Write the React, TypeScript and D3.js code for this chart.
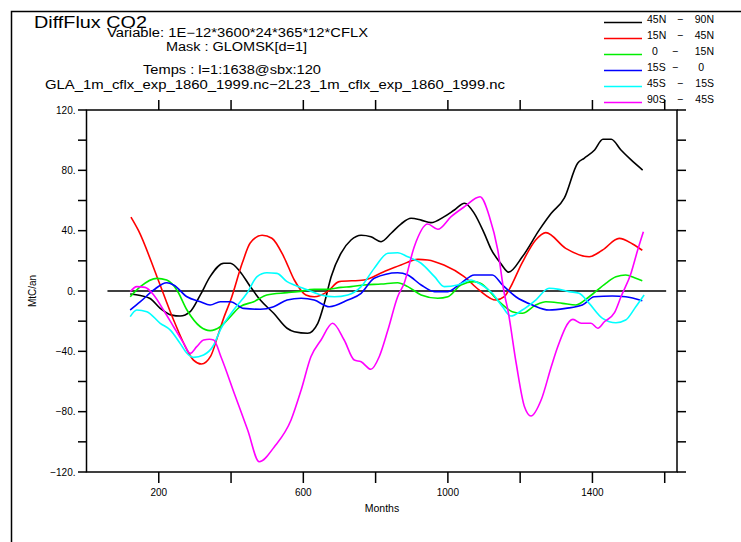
import React, { useEffect, useRef } from 'react';
import * as d3 from 'd3';

// latitude bands shown in the legend
const bandFrom = ['45N', '15N', '0', '15S', '45S', '90S'];
const bandTo = ['90N', '45N', '15N', '0', '15S', '45S'];
const bandColors = ['#000000', '#ff0000', '#00ee00', '#0000ff', '#00ffff', '#ff00ff'];

// [month, MtC/an]
const band45N90N = [[121,-2],[149,-3],[176,-5],[204,-11.5],[236,-16],[259,-16.6],[287,-13.7],[315,-2.6],[342,9.5],[380,18.4],[398,18.4],[425,12.8],[453,3],[481,-6],[518,-14.8],[555,-24.7],[575,-27],[612,-28],[640,-21.4],[658,-8.2],[677,9.5],[704,25],[732,33.8],[760,37],[787,36],[815,32.7],[843,38.3],[870,44.4],[898,48.2],[926,47],[953,45.3],[990,49.3],[1018,53.7],[1046,58.2],[1073,51.5],[1101,38],[1119,28],[1147,18],[1168,12.5],[1206,22.7],[1253,40.5],[1286,51.5],[1322,61.5],[1359,84.7],[1377,88],[1406,93.5],[1429,100.6],[1452,100.6],[1479,93.5],[1507,86.9],[1539,80.2]];
const band15N45N = [[123,49],[144,40],[195,9.5],[241,-19.2],[278,-39],[296,-45.8],[318,-48.4],[344,-43],[363,-30],[381,-17],[399,-6],[431,18.5],[453,31.8],[486,37],[513,35],[546,22.7],[575,7.3],[607,-2.6],[630,-3.8],[667,-0.4],[699,6.2],[768,7.3],[823,12.8],[870,17.2],[917,21],[944,20.6],[989,17.2],[1045,9.5],[1086,0.7],[1133,-6],[1156,-3.8],[1169,0.7],[1205,18.5],[1243,33.8],[1271,38.7],[1326,28.3],[1391,22.7],[1427,27],[1474,34.9],[1511,31.2],[1538,27]];
const band0N15N = [[121,-3.8],[149,2.9],[195,8.4],[222,7.3],[250,0.7],[278,-12.6],[315,-23.7],[342,-26.3],[370,-23.7],[398,-17],[425,-10.4],[463,-7.1],[499,-2.6],[555,-1.1],[584,-0.4],[630,1.1],[667,1.1],[704,2.4],[732,2.9],[769,4],[815,4.6],[861,5.5],[889,2.9],[926,-2.6],[972,-4.8],[1000,-3.8],[1036,4],[1073,6.2],[1090,5.1],[1142,-7.1],[1178,-13.7],[1206,-14.8],[1243,-9.3],[1271,-7.1],[1317,-8.2],[1354,-9.3],[1391,-3.8],[1437,5.1],[1465,9.5],[1492,10.6],[1520,8.4],[1538,6.8]];
const band15S0 = [[121,-12.6],[149,-7.1],[186,0.7],[222,5.5],[241,4],[278,-3.8],[315,-7.1],[342,-9.3],[370,-7.1],[398,-7.1],[435,-11.5],[481,-12.1],[518,-10.4],[555,-6],[594,-4.8],[630,-6],[672,-10.4],[723,-6],[760,-1.5],[796,8.4],[861,12.1],[889,10.6],[926,4],[963,-0.4],[1000,-0.4],[1036,5.1],[1073,10.6],[1123,10.6],[1151,4],[1188,-3.8],[1234,-9.3],[1280,-12.6],[1326,-11.5],[1372,-9.3],[1405,-3.8],[1455,-3.3],[1492,-3.8],[1538,-6.4]];
const band45S15S = [[121,-17],[139,-12.6],[167,-13.7],[204,-21.4],[232,-25.9],[259,-34.7],[278,-41.3],[296,-44],[324,-42.4],[352,-35.8],[370,-25.9],[407,-12.6],[444,-1.5],[472,9.5],[499,12.1],[527,11.7],[555,6.2],[575,4],[612,0.7],[649,-2.6],[686,-3.8],[723,-2.6],[760,2.9],[796,15],[834,25],[861,25.4],[889,22.7],[926,18.4],[963,9.5],[990,2.9],[1027,4],[1064,7.3],[1086,5.1],[1123,-1.5],[1151,-10.4],[1174,-16.6],[1206,-12.6],[1243,-6],[1280,1.8],[1308,1.1],[1335,-0.4],[1363,-1.5],[1391,-8.2],[1428,-18.1],[1465,-21],[1492,-19.2],[1520,-10.4],[1543,-2.6]];
const band90S45S = [[121,-0.4],[139,2.9],[162,2.4],[186,-2.6],[213,-12.6],[241,-23.7],[269,-34.7],[287,-41.3],[305,-36.9],[324,-32.5],[340,-32],[352,-32.5],[372,-43.6],[409,-67.9],[446,-92.2],[478,-113.2],[520,-103.2],[566,-85.5],[594,-65.6],[621,-43.6],[649,-32.5],[681,-21.4],[713,-32.5],[741,-45.8],[760,-46.9],[787,-51.9],[810,-43.6],[834,-25.9],[861,-3.8],[879,5.1],[907,29.4],[944,44.4],[972,40.9],[1009,49.3],[1046,55.9],[1089,62.5],[1115,49.3],[1138,27.2],[1156,-1.5],[1166,-12.6],[1189,-47.9],[1212,-76.7],[1230,-82.9],[1258,-72.3],[1286,-50.2],[1304,-36.9],[1346,-18.8],[1369,-21.4],[1396,-21.4],[1415,-24.7],[1433,-20.4],[1461,-14.4],[1479,-3.8],[1507,12],[1525,27],[1541,39.3]];

const series = [band45N90N, band15N45N, band0N15N, band15S0, band45S15S, band90S45S];

const yTicks = [-120, -100, -80, -60, -40, -20, 0, 20, 40, 60, 80, 100, 120];
const yLabels = [-120, -80, -40, 0, 40, 80, 120];
const xTicks = [200, 400, 600, 800, 1000, 1200, 1400, 1600];
const xLabels = [200, 600, 1000, 1400];
const zeroSpan = [58, 1604];

const FONT = '"Liberation Sans", Arial, sans-serif';

const App = () => {
  const ref = useRef(null);

  useEffect(() => {
    const svg = d3.select(ref.current);
    svg.selectAll('*').remove();

    const x = d3.scaleLinear().domain([0, 1634]).range([86.5, 677]);
    const y = d3.scaleLinear().domain([-120, 120]).range([472, 110]);
    const [x0, x1] = x.range();
    const [y0, y1] = y.range();

    svg.append('rect').attr('width', 741).attr('height', 542).attr('fill', '#fff');

    // page border
    svg.append('path')
      .attr('d', 'M11.5,542V11.5H741')
      .attr('fill', 'none').attr('stroke', '#000').attr('stroke-width', 1.5);

    // header texts
    const header = (t, px, py, size, len) =>
      svg.append('text').attr('x', px).attr('y', py)
        .attr('font-family', FONT).attr('font-size', size)
        .attr('textLength', len).attr('lengthAdjust', 'spacingAndGlyphs')
        .text(t);
    header('DiffFlux CO2', 34, 28, 17, 113);
    header('Variable: 1E\u221212*3600*24*365*12*CFLX', 107, 37, 12, 261);
    header('Mask : GLOMSK[d=1]', 166, 51, 12, 141);
    header('Temps : l=1:1638@sbx:120', 143, 74, 12, 178);
    header('GLA_1m_cflx_exp_1860_1999.nc\u22122L23_1m_cflx_exp_1860_1999.nc', 45, 89, 12.5, 460);

    // legend
    const lg = svg.append('g').attr('font-family', FONT).attr('font-size', 10.5);
    bandFrom.forEach((f, i) => {
      const ly = 22.5 + i * 16;
      lg.append('line').attr('x1', 604).attr('x2', 642).attr('y1', ly).attr('y2', ly)
        .attr('stroke', bandColors[i]).attr('stroke-width', 1.5);
      lg.append('text').attr('x', f.length === 1 ? 652 : 647).attr('y', ly).text(f);
      lg.append('text').attr('x', f.length === 1 || bandTo[i].length === 1 ? 675 : 680)
        .attr('y', ly).attr('text-anchor', 'middle').text('\u2212');
      lg.append('text').attr('x', bandTo[i].length === 1 ? 704 : 714).attr('y', ly)
        .attr('text-anchor', 'end').text(bandTo[i]);
    });

    // frame
    svg.append('rect').attr('x', x0).attr('y', y1).attr('width', x1 - x0).attr('height', y0 - y1)
      .attr('fill', 'none').attr('stroke', '#000').attr('stroke-width', 1.5);

    const ticks = svg.append('g').attr('stroke', '#000').attr('stroke-width', 1.5);
    yTicks.forEach(v => {
      ticks.append('line').attr('x1', x0 - 8.5).attr('x2', x0).attr('y1', y(v)).attr('y2', y(v));
      ticks.append('line').attr('x1', x1).attr('x2', x1 + 9).attr('y1', y(v)).attr('y2', y(v));
    });
    xTicks.forEach(v => {
      ticks.append('line').attr('x1', x(v)).attr('x2', x(v)).attr('y1', y0).attr('y2', y0 + 11);
      ticks.append('line').attr('x1', x(v)).attr('x2', x(v)).attr('y1', y1 - 10).attr('y2', y1);
    });

    const labels = svg.append('g').attr('font-family', FONT).attr('font-size', 10);
    yLabels.forEach(v => {
      labels.append('text').attr('x', x0 - 11).attr('y', y(v) + 3.5).attr('text-anchor', 'end')
        .text((v < 0 ? '\u2212' + Math.abs(v) : v) + '.');
    });
    xLabels.forEach(v => {
      labels.append('text').attr('x', x(v)).attr('y', 496).attr('text-anchor', 'middle').text(v);
    });
    labels.append('text').attr('x', 382).attr('y', 512).attr('text-anchor', 'middle')
      .attr('font-size', 10.5).text('Months');
    labels.append('text').attr('transform', 'translate(36,291) rotate(-90)')
      .attr('text-anchor', 'middle').text('MtC/an');

    // zero line
    svg.append('line')
      .attr('x1', x(zeroSpan[0])).attr('x2', x(zeroSpan[1]))
      .attr('y1', y(0)).attr('y2', y(0))
      .attr('stroke', '#000').attr('stroke-width', 1.5);

    const line = d3.line().x(d => x(d[0])).y(d => y(d[1])).curve(d3.curveMonotoneX);
    series.forEach((s, i) => {
      svg.append('path').datum(s).attr('d', line)
        .attr('fill', 'none').attr('stroke', bandColors[i]).attr('stroke-width', 1.6);
    });
  }, []);

  return (
    <svg ref={ref} width={741} height={542}
      style={{ position: 'absolute', left: 0, top: 0, display: 'block' }} />
  );
};

export default App;
